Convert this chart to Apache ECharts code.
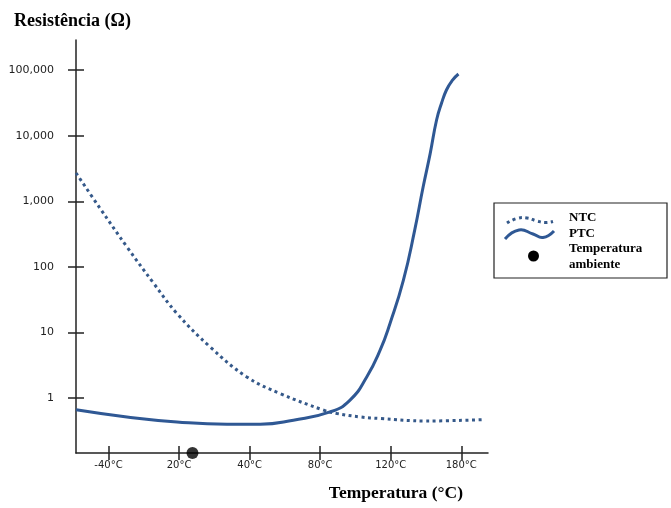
<!DOCTYPE html>
<html>
<head>
<meta charset="utf-8">
<script src="https://cdn.jsdelivr.net/npm/echarts@6/dist/echarts.min.js"></script>
<style>
  html, body { margin: 0; padding: 0; background: #ffffff; }
  #chart { width: 671px; height: 508px; }
</style>
</head>
<body>
<div id="chart"></div>
<script>
// ---- data (x = position index along the temperature scale: 0 = -40°C, 1 = 20°C, ...) ----
const xTickLabels = ['-40°C', '20°C', '40°C', '80°C', '120°C', '180°C'];
const xTickValues = [0, 1, 2, 3, 4, 5];
const yTickValues = [1, 10, 100, 1000, 10000, 100000];
const yTickLabels = ['1', '10', '100', '1,000', '10,000', '100,000'];

const ntcX = [-0.46, -0.12, 0.26, 0.64, 0.97, 1.44, 1.96, 2.43, 3.05, 3.24, 3.57, 3.85, 4.51, 5.29];
const ntcY = [2700, 780, 202, 56, 19.4, 6.0, 2.09, 1.17, 0.65, 0.578, 0.513, 0.485, 0.445, 0.465];

const ptcX = [-0.46, 0.26, 0.97, 1.68, 2.15, 2.62, 3.14, 3.42, 3.66, 3.85, 3.99, 4.18, 4.34, 4.46, 4.56, 4.65, 4.72, 4.79, 4.87, 4.96];
const ptcY = [0.66, 0.513, 0.43, 0.397, 0.397, 0.457, 0.611, 0.92, 2.09, 5.35, 13.7, 62.7, 363, 1664, 5390, 17380, 31300, 49900, 69200, 87500];

const ambientX = [1.19];
const seriesNames = ['NTC', 'PTC', 'Temperatura ambiente'];

// ---- axis ranges ----
const X_MIN = -0.461, X_MAX = 5.379;
const Y_MIN = 0.1445, Y_MAX = 289000;

const lineColor = '#2f5894';
const dotColor = '#35598a';
const axisColor = '#222222';
const serif = '"Liberation Serif", "Times New Roman", serif';

function pair(xs, ys) { return xs.map((x, i) => [x, ys[i]]); }
function yLabel(v) {
  const i = yTickValues.findIndex(t => Math.abs(Math.log10(t) - Math.log10(v)) < 1e-6);
  return i >= 0 ? yTickLabels[i] : '';
}
function xLabel(v) {
  const i = xTickValues.findIndex(t => Math.abs(t - v) < 1e-6);
  return i >= 0 ? xTickLabels[i] : '';
}

const chart = echarts.init(document.getElementById('chart'), null, { renderer: 'canvas' });

const option = {
  animation: false,
  backgroundColor: '#ffffff',
  grid: { left: 76, right: 183, top: 40, bottom: 55, containLabel: false, outerBoundsMode: 'none' },
  xAxis: [{
    type: 'value', min: X_MIN, max: X_MAX, position: 'bottom',
    axisLine: { show: true, onZero: false, lineStyle: { color: axisColor, width: 1.5 } },
    axisTick: { show: true, inside: false, length: 7, customValues: xTickValues, lineStyle: { color: axisColor, width: 1.5 } },
    axisLabel: { customValues: xTickValues, formatter: xLabel, margin: 7, fontFamily: 'DejaVu Sans', fontSize: 10, color: axisColor },
    splitLine: { show: false },
    name: 'Temperatura (°C)', nameLocation: 'end', nameGap: -25,
    nameTextStyle: { fontFamily: serif, fontWeight: 'bold', fontSize: 17.5, color: '#000', align: 'right', verticalAlign: 'top', padding: [31, 0, 0, 0] }
  }, {
    type: 'value', min: X_MIN, max: X_MAX, position: 'bottom',
    axisLine: { show: false, onZero: false },
    axisTick: { show: true, inside: true, length: 7, customValues: xTickValues, lineStyle: { color: axisColor, width: 1.5 } },
    axisLabel: { show: false },
    splitLine: { show: false }
  }],
  yAxis: [{
    type: 'log', logBase: 10, min: Y_MIN, max: Y_MAX, position: 'left',
    axisLine: { show: true, onZero: false, lineStyle: { color: axisColor, width: 1.5 } },
    axisTick: { show: true, inside: false, length: 8, customValues: yTickValues, lineStyle: { color: axisColor, width: 1.5 } },
    axisLabel: { customValues: yTickValues, formatter: yLabel, margin: 22, fontFamily: 'DejaVu Sans', fontSize: 11, color: axisColor },
    splitLine: { show: false },
    name: 'Resistência (Ω)', nameLocation: 'end', nameGap: 10,
    nameTextStyle: { fontFamily: serif, fontWeight: 'bold', fontSize: 18, color: '#000', padding: [0, 7, 0, 0] }
  }, {
    type: 'log', logBase: 10, min: Y_MIN, max: Y_MAX, position: 'left',
    axisLine: { show: false, onZero: false },
    axisTick: { show: true, inside: true, length: 8, customValues: yTickValues, lineStyle: { color: axisColor, width: 1.5 } },
    axisLabel: { show: false },
    splitLine: { show: false }
  }],
  series: [{
    name: seriesNames[0], type: 'line', xAxisIndex: 0, yAxisIndex: 0,
    data: pair(ntcX, ntcY), smooth: 0.4, symbol: 'none', clip: false,
    lineStyle: { color: dotColor, width: 3, type: [3, 3.5], cap: 'butt' }
  }, {
    name: seriesNames[1], type: 'line', xAxisIndex: 0, yAxisIndex: 0,
    data: pair(ptcX, ptcY), smooth: 0.5, symbol: 'none', clip: false,
    lineStyle: { color: lineColor, width: 3 }
  }, {
    name: seriesNames[2], type: 'scatter', xAxisIndex: 0, yAxisIndex: 0,
    data: ambientX.map(x => [x, Y_MIN]), symbol: 'circle', symbolSize: 12, clip: false,
    itemStyle: { color: '#000' }, z: 5
  }],
  graphic: [
    { type: 'rect', shape: { x: 494, y: 203, width: 173, height: 75 }, style: { fill: '#fff', stroke: '#222', lineWidth: 1.2 }, z: 10 },
    { type: 'polyline', shape: { points: [[507, 223], [517, 218.5], [527, 218], [537, 221], [545, 222.5], [553, 221.5]], smooth: 0.5 },
      style: { stroke: dotColor, lineWidth: 3, lineDash: [3, 3.5], fill: null }, z: 11 },
    { type: 'polyline', shape: { points: [[505, 239], [519, 230], [533, 234], [543, 237.5], [554, 231]], smooth: 0.5 },
      style: { stroke: lineColor, lineWidth: 3, fill: null }, z: 11 },
    { type: 'circle', shape: { cx: 533.5, cy: 256, r: 5.5 }, style: { fill: '#000' }, z: 11 },
    { type: 'text', style: { text: seriesNames[0], x: 569, y: 218, font: 'bold 13px ' + serif, fill: '#000', align: 'left', verticalAlign: 'middle' }, z: 11 },
    { type: 'text', style: { text: seriesNames[1], x: 569, y: 233.5, font: 'bold 13px ' + serif, fill: '#000', align: 'left', verticalAlign: 'middle' }, z: 11 },
    { type: 'text', style: { text: 'Temperatura', x: 569, y: 249, font: 'bold 13px ' + serif, fill: '#000', align: 'left', verticalAlign: 'middle' }, z: 11 },
    { type: 'text', style: { text: 'ambiente', x: 569, y: 264.5, font: 'bold 13px ' + serif, fill: '#000', align: 'left', verticalAlign: 'middle' }, z: 11 }
  ]
};

chart.setOption(option);
</script>
</body>
</html>
